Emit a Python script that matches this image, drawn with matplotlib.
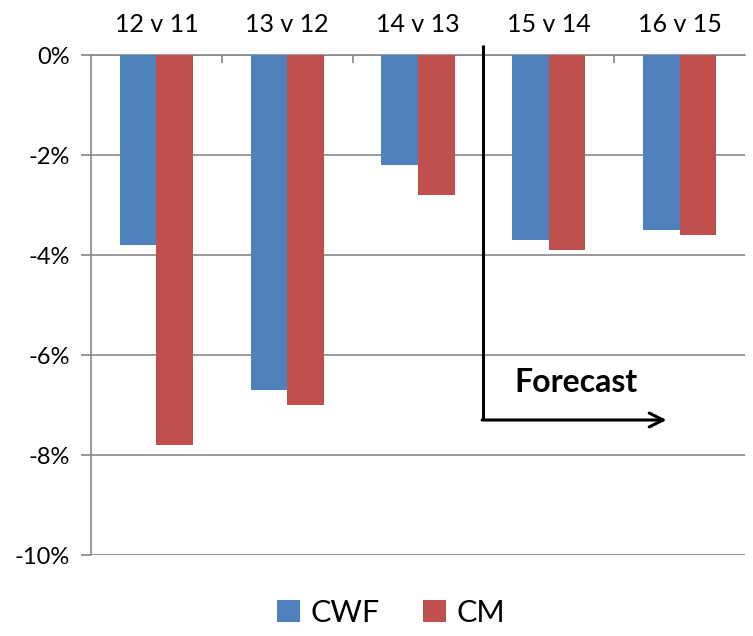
import numpy as np
import matplotlib.pyplot as plt
from matplotlib.ticker import FuncFormatter

categories = ["12 v 11", "13 v 12", "14 v 13", "15 v 14", "16 v 15"]
cwf = [-3.8, -6.7, -2.2, -3.7, -3.5]
cm = [-7.8, -7.0, -2.8, -3.9, -3.6]

plt.rcParams['font.family'] = ['Lato', 'DejaVu Sans']

fig = plt.figure(figsize=(7.53, 6.36), dpi=100)
ax = fig.add_axes([91 / 753, 1 - 555 / 636, 654 / 753, 500 / 636])

x = np.arange(len(categories))
w = 0.28
ax.bar(x - w / 2, cwf, w, color="#4F81BD", label="CWF", zorder=3)
ax.bar(x + w / 2, cm, w, color="#C0504D", label="CM", zorder=3)

ax.set_xlim(-0.5, len(categories) - 0.5)
ax.set_ylim(-10, 0)
ax.set_yticks(np.arange(-10, 1, 2))
ax.yaxis.set_major_formatter(FuncFormatter(lambda v, p: f"{v:.0f}%"))
ax.yaxis.grid(True, color="#888888", linewidth=1.2, zorder=0)

ax.xaxis.tick_top()
ax.set_xticks(x)
ax.set_xticklabels(categories)
ax.set_xticks(x[:-1] + 0.5, minor=True)
ax.tick_params(axis="x", which="major", length=0, labelsize=18, pad=14)
ax.tick_params(axis="x", which="minor", length=6, direction="in",
               color="#888888", width=1.2)
ax.tick_params(axis="y", length=7, color="#888888", width=1.2,
               labelsize=17, pad=8)

for s in ["right", "bottom"]:
    ax.spines[s].set_visible(False)
for s in ["top", "left"]:
    ax.spines[s].set_color("#888888")
    ax.spines[s].set_linewidth(1.2)

# forecast marker
ax.plot([2.5, 2.5], [0.2, -7.3], color="black", lw=2.2, clip_on=False,
        zorder=4, solid_capstyle="butt")
ax.annotate("", xy=(3.9, -7.3), xytext=(2.49, -7.3),
            arrowprops=dict(arrowstyle="->", color="black", lw=2.2,
                            mutation_scale=25, shrinkA=0, shrinkB=0),
            zorder=4)
ax.text(3.21, -6.55, "Forecast", fontsize=23, fontweight="bold",
        ha="center", va="center", zorder=4)

ax.legend(loc="center", bbox_to_anchor=(0.459, -0.115), ncol=2,
          frameon=False, fontsize=22, handlelength=0.75, handleheight=0.75,
          handletextpad=0.35, columnspacing=1.4, borderpad=0)

fig.savefig("out.png", dpi=100)
